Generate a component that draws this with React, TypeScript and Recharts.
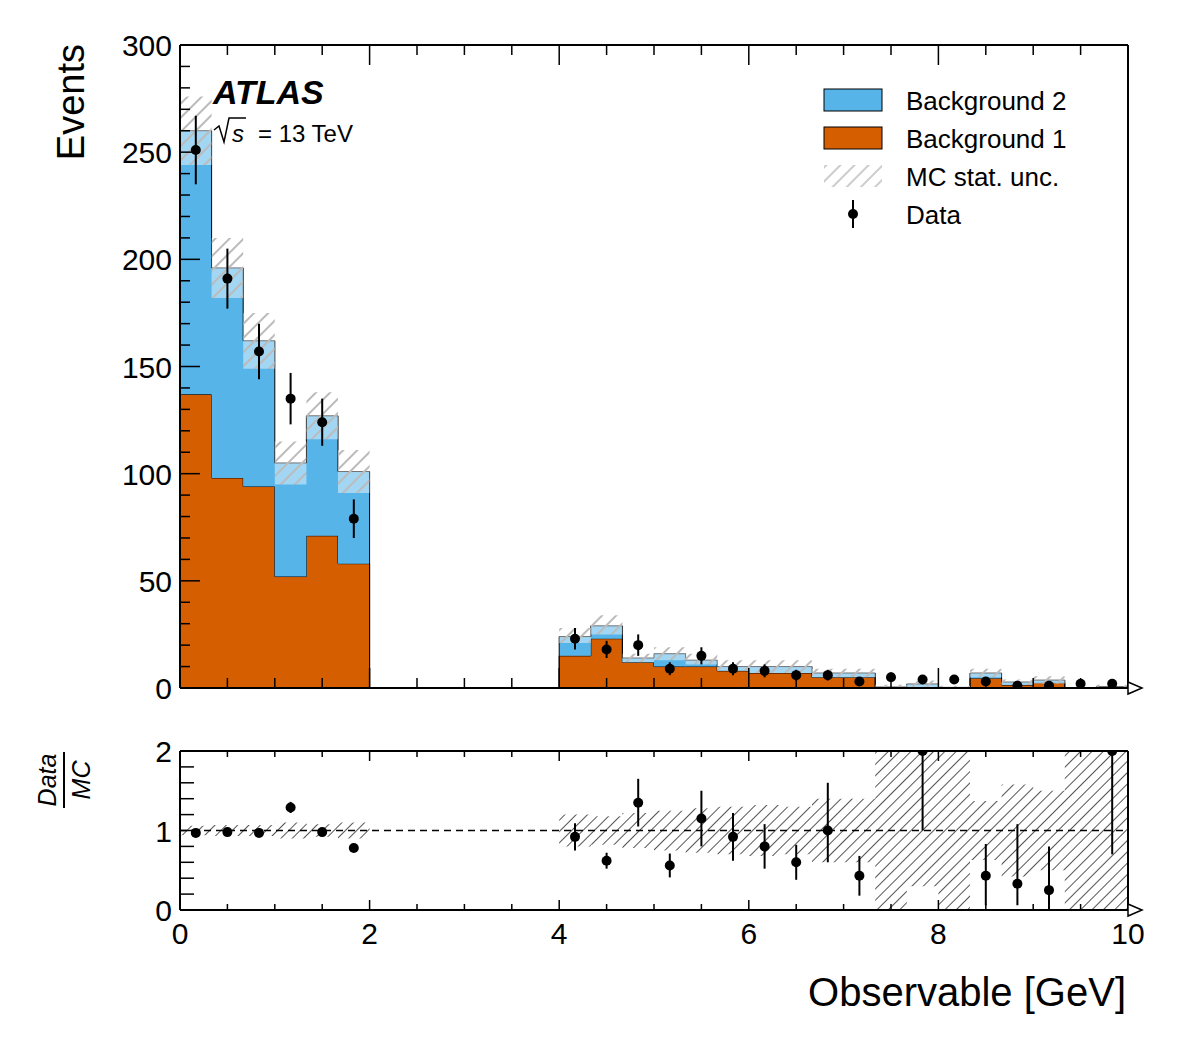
import React from 'react';
import { ComposedChart, Area, Scatter, ErrorBar, XAxis, YAxis, ReferenceLine } from 'recharts';

// 30 bins of width 1/3 GeV between 0 and 10
const binEdges = Array.from({ length: 31 }, (_, i) => i / 3);
const background1 = [137, 98, 94, 52, 71, 58, 0, 0, 0, 0, 0, 0, 15, 23, 12, 10, 10, 8, 7, 7, 5, 5, 0, 0, 0, 4.6, 1.4, 2.4, 0, 0];
const background2 = [123, 98, 68, 53, 56, 43, 0, 0, 0, 0, 0, 0, 9, 6, 2, 6, 3, 2, 3, 3, 2, 2, 0.5, 1.9, 0.3, 2.4, 1.4, 1.3, 0, 0.7];
const mcUnc: ([number, number] | null)[] = [
  [244, 276], [182, 210], [149, 175], [95, 115], [116, 138], [91, 111],
  null, null, null, null, null, null,
  [21, 28], [25, 34], [12, 16], [13, 19], [11, 16], [8, 13], [7, 13], [7, 13], [5, 9], [5, 9],
  [0, 1.5], [0.5, 3.5], [0, 1], [5, 9], [1.5, 4], [2, 5.5], [0, 0.5], [0, 1.5],
];
const dataBins = [0, 1, 2, 3, 4, 5, 12, 13, 14, 15, 16, 17, 18, 19, 20, 21, 22, 23, 24, 25, 26, 27, 28, 29];
const dataValues = [251, 191, 157, 135, 124, 79, 23, 18, 20, 9, 15, 9, 8, 6, 6, 3, 5, 4, 4, 3, 1, 1, 2, 2];
const dataErrors = [16, 14, 13, 12, 11, 9, 5, 4, 5, 3, 4, 3, 3, 2.5, 2.5, 2, 2.2, 2, 2, 1.7, 1, 1, 1.4, 1.4];

const ratioBins = [0, 1, 2, 3, 4, 5, 12, 13, 14, 15, 16, 17, 18, 19, 20, 21, 23, 25, 26, 27, 29];
const ratioValues = [0.97, 0.98, 0.97, 1.29, 0.98, 0.78, 0.92, 0.62, 1.35, 0.56, 1.15, 0.92, 0.8, 0.6, 1.0, 0.43, 2.0, 0.43, 0.33, 0.25, 2.0];
const ratioErrors: [number, number][] = [
  [0.03, 0.03], [0.03, 0.03], [0.03, 0.03], [0.07, 0.07], [0.04, 0.04], [0.05, 0.05],
  [0.17, 0.17], [0.1, 0.1], [0.3, 0.3], [0.15, 0.15], [0.35, 0.35], [0.3, 0.3], [0.28, 0.28],
  [0.22, 0.22], [0.4, 0.6], [0.25, 0.25], [1.0, 0], [0.37, 0.4], [0.27, 0.75], [0.25, 0.55], [1.3, 0],
];
const ratioUnc: ([number, number] | null)[] = [
  [0.94, 1.06], [0.93, 1.07], [0.93, 1.07], [0.9, 1.1], [0.92, 1.08], [0.9, 1.1],
  null, null, null, null, null, null,
  [0.8, 1.2], [0.82, 1.18], [0.78, 1.22], [0.75, 1.25], [0.72, 1.28], [0.7, 1.3], [0.68, 1.32], [0.7, 1.3], [0.6, 1.4], [0.6, 1.4],
  [0, 2], [0.3, 2], [0, 2], [0.63, 1.37], [0.42, 1.58], [0.5, 1.5], [0, 2], [0, 2],
];

const xTicks = [0, 0.5, 1, 1.5, 2, 2.5, 3, 3.5, 4, 4.5, 5, 5.5, 6, 6.5, 7, 7.5, 8, 8.5, 9, 9.5, 10];
const yTicks = [0, 10, 20, 30, 40, 50, 60, 70, 80, 90, 100, 110, 120, 130, 140, 150, 160, 170, 180, 190, 200, 210, 220, 230, 240, 250, 260, 270, 280, 290, 300];
const rTicks = [0, 0.2, 0.4, 0.6, 0.8, 1, 1.2, 1.4, 1.6, 1.8, 2];

// each bin becomes two points so the areas draw flat histogram steps
const histRows = background1.flatMap((b1, i) => [
  { x: binEdges[i], b1, b2: background2[i], unc: mcUnc[i], runc: ratioUnc[i] },
  { x: binEdges[i + 1], b1, b2: background2[i], unc: mcUnc[i], runc: ratioUnc[i] },
]);
const center = (i: number) => (binEdges[i] + binEdges[i + 1]) / 2;
const dataPoints = dataBins.map((b, i) => ({ x: center(b), y: dataValues[i], err: dataErrors[i] }));
const ratioPoints = ratioBins.map((b, i) => ({ x: center(b), y: ratioValues[i], err: ratioErrors[i] }));

const FONT = '"Liberation Sans", Arial, sans-serif';
const near = (v: number, step: number) => Math.abs(v / step - Math.round(v / step)) < 1e-6;

const makeTick = (side: string, step: number, maj: number, min: number, label: boolean, fmt = (v: number) => String(v)) =>
  (props: any) => {
    const { x, y, payload } = props;
    const v = payload.value;
    const isMajor = near(v, step);
    const len = isMajor ? maj : min;
    let line;
    if (side === 'left') line = <line x1={x} y1={y} x2={x + len} y2={y} stroke="#000" strokeWidth={1.5} />;
    else if (side === 'right') line = <line x1={x} y1={y} x2={x - len} y2={y} stroke="#000" strokeWidth={1.5} />;
    else if (side === 'bottom') line = <line x1={x} y1={y} x2={x} y2={y - len} stroke="#000" strokeWidth={1.5} />;
    else line = <line x1={x} y1={y} x2={x} y2={y + len} stroke="#000" strokeWidth={1.5} />;
    return (
      <g>
        {line}
        {label && isMajor && side === 'left' && (
          <text x={x - 8} y={y + 11} textAnchor="end" fontSize={30} fontFamily={FONT} fill="#000">{fmt(v)}</text>
        )}
        {label && isMajor && side === 'bottom' && (
          <text x={x} y={y + 34} textAnchor="middle" fontSize={30} fontFamily={FONT} fill="#000">{fmt(v)}</text>
        )}
      </g>
    );
  };

const frame = { stroke: '#000', strokeWidth: 2 };
const Dot = (p: any) => <circle cx={p.cx} cy={p.cy} r={5} fill="#000" />;

export default function App() {
  return (
    <div style={{ position: 'relative', width: 1177, height: 1045, background: '#fff' }}>
      <style>{'body{margin:0}'}</style>
      <div style={{ position: 'absolute', left: 0, top: 0 }}>
        <ComposedChart width={1177} height={715} data={histRows} margin={{ top: 44, left: 179, right: 48, bottom: 26 }}>
          <defs>
            <pattern id="hatchMain" width="10" height="10" patternUnits="userSpaceOnUse" patternTransform="rotate(45)">
              <rect width="10" height="10" fill="#fff" fillOpacity={0.45} />
              <line x1="0" y1="0" x2="0" y2="10" stroke="#bbb" strokeWidth={4} />
            </pattern>
          </defs>
          <XAxis xAxisId={0} dataKey="x" type="number" domain={[0, 10]} ticks={xTicks} allowDataOverflow height={1}
            tickSize={0} tickMargin={0} tickLine={false} axisLine={frame} tick={makeTick('bottom', 2, 20, 10, false)} interval={0} />
          <XAxis xAxisId="top" orientation="top" dataKey="x" type="number" domain={[0, 10]} ticks={xTicks} height={1}
            tickSize={0} tickMargin={0} tickLine={false} axisLine={frame} tick={makeTick('top', 2, 20, 10, false)} interval={0} />
          <YAxis yAxisId={0} type="number" domain={[0, 300]} ticks={yTicks} allowDataOverflow width={1}
            tickSize={0} tickMargin={0} tickLine={false} axisLine={frame} tick={makeTick('left', 50, 20, 10, true)} interval={0} />
          <YAxis yAxisId="right" orientation="right" type="number" domain={[0, 300]} ticks={yTicks} width={1}
            tickSize={0} tickMargin={0} tickLine={false} axisLine={frame} tick={makeTick('right', 50, 20, 10, false)} interval={0} />
          <Area dataKey="b1" stackId="s" type="linear" fill="#d55e00" fillOpacity={1} stroke="#000" strokeWidth={1} isAnimationActive={false} />
          <Area dataKey="b2" stackId="s" type="linear" fill="#56b4e9" fillOpacity={1} stroke="#000" strokeWidth={1} isAnimationActive={false} />
          <Area dataKey="unc" type="linear" fill="url(#hatchMain)" fillOpacity={1} stroke="none" connectNulls={false} isAnimationActive={false} />
          <Scatter data={dataPoints} dataKey="y" shape={<Dot />} isAnimationActive={false}>
            <ErrorBar dataKey="err" direction="y" width={0} stroke="#000" strokeWidth={2} />
          </Scatter>
        </ComposedChart>
      </div>
      <div style={{ position: 'absolute', left: 0, top: 700 }}>
        <ComposedChart width={1177} height={270} data={histRows} margin={{ top: 50, left: 179, right: 48, bottom: 59 }}>
          <defs>
            <pattern id="hatchRatio" width="8" height="8" patternUnits="userSpaceOnUse" patternTransform="rotate(45)">
              <line x1="0" y1="0" x2="0" y2="8" stroke="#555" strokeWidth={2} />
            </pattern>
          </defs>
          <XAxis xAxisId={0} dataKey="x" type="number" domain={[0, 10]} ticks={xTicks} allowDataOverflow height={1}
            tickSize={0} tickMargin={0} tickLine={false} axisLine={frame} tick={makeTick('bottom', 2, 10, 6, true)} interval={0} />
          <XAxis xAxisId="top" orientation="top" dataKey="x" type="number" domain={[0, 10]} ticks={xTicks} height={1}
            tickSize={0} tickMargin={0} tickLine={false} axisLine={frame} tick={makeTick('top', 2, 10, 6, false)} interval={0} />
          <YAxis yAxisId={0} type="number" domain={[0, 2]} ticks={rTicks} allowDataOverflow width={1}
            tickSize={0} tickMargin={0} tickLine={false} axisLine={frame} tick={makeTick('left', 1, 20, 14, true)} interval={0} />
          <YAxis yAxisId="right" orientation="right" type="number" domain={[0, 2]} ticks={rTicks} width={1}
            tickSize={0} tickMargin={0} tickLine={false} axisLine={frame} tick={makeTick('right', 1, 20, 14, false)} interval={0} />
          <Area dataKey="runc" type="linear" fill="url(#hatchRatio)" fillOpacity={1} stroke="none" connectNulls={false} isAnimationActive={false} />
          <ReferenceLine y={1} stroke="#000" strokeWidth={1.5} strokeDasharray="7 5" />
          <Scatter data={ratioPoints} dataKey="y" shape={<Dot />} isAnimationActive={false}>
            <ErrorBar dataKey="err" direction="y" width={0} stroke="#000" strokeWidth={2} />
          </Scatter>
        </ComposedChart>
      </div>
      <svg width={1177} height={1045} style={{ position: 'absolute', left: 0, top: 0, pointerEvents: 'none' }} fontFamily={FONT}>
        <defs>
          <pattern id="hatchLeg" width="10" height="10" patternUnits="userSpaceOnUse" patternTransform="rotate(45)">
            <line x1="0" y1="0" x2="0" y2="10" stroke="#ccc" strokeWidth={4} />
          </pattern>
        </defs>
        <polygon points="1128,682 1142,688 1128,694" fill="#fff" stroke="#000" strokeWidth={1.5} />
        <polygon points="1128,904 1142,910 1128,916" fill="#fff" stroke="#000" strokeWidth={1.5} />
        <text transform="translate(84,44) rotate(-90)" textAnchor="end" fontSize={38} fill="#000">Events</text>
        <text x={1126} y={1006} textAnchor="end" fontSize={40} fill="#000">Observable [GeV]</text>
        <g transform="translate(64,780) rotate(-90)">
          <text x={0} y={-8} textAnchor="middle" fontSize={25} fontStyle="italic" fill="#000">Data</text>
          <line x1={-28} y1={0} x2={28} y2={0} stroke="#000" strokeWidth={2} />
          <text x={0} y={26} textAnchor="middle" fontSize={25} fontStyle="italic" fill="#000">MC</text>
        </g>
        <text x={213} y={104} fontSize={34} fontWeight="bold" fontStyle="italic" fill="#000">ATLAS</text>
        <path d="M214,130 L219,126 L224,142 L229,118 L246,118" fill="none" stroke="#000" strokeWidth={1.5} />
        <text x={232} y={142} fontSize={24} fontStyle="italic" fill="#000">s</text>
        <text x={258} y={142} fontSize={24} fill="#000">= 13 TeV</text>
        <rect x={824} y={89} width={58} height={22} fill="#56b4e9" stroke="#000" strokeWidth={1} />
        <text x={906} y={110} fontSize={26} fill="#000">Background 2</text>
        <rect x={824} y={127} width={58} height={22} fill="#d55e00" stroke="#000" strokeWidth={1} />
        <text x={906} y={148} fontSize={26} fill="#000">Background 1</text>
        <rect x={824} y={165} width={58} height={22} fill="url(#hatchLeg)" />
        <text x={906} y={186} fontSize={26} fill="#000">MC stat. unc.</text>
        <line x1={853} y1={200} x2={853} y2={228} stroke="#000" strokeWidth={2} />
        <circle cx={853} cy={214} r={5} fill="#000" />
        <text x={906} y={224} fontSize={26} fill="#000">Data</text>
      </svg>
    </div>
  );
}
